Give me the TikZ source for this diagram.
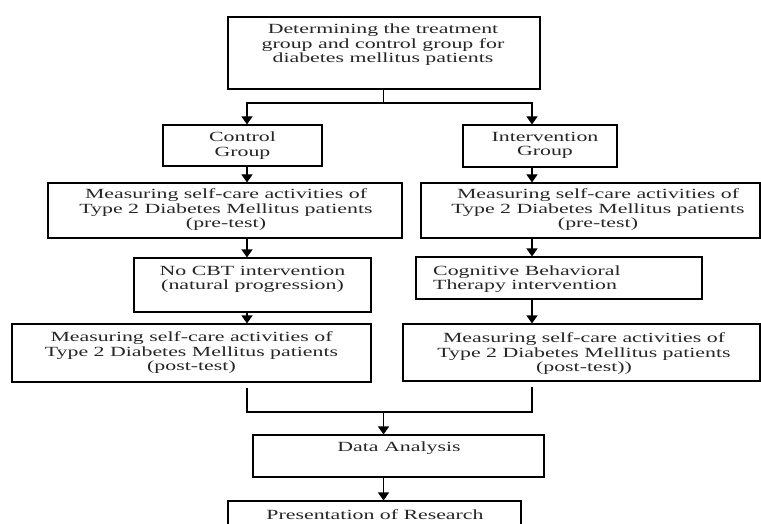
\documentclass[tikz,border=0pt]{standalone}
\usepackage{fontspec}
\setmainfont{Liberation Serif}[FakeStretch=1.56]
\usetikzlibrary{arrows.meta}
\begin{document}
\begin{tikzpicture}[x=1pt,y=-1pt,
  box/.style={draw, line width=1.1pt, inner sep=0pt, rectangle},
  lbl/.style={inner sep=0pt, align=center, text=black!85, font=\fontsize{14}{14.5}\selectfont},
  arr/.style={line width=1.1pt, -{Triangle[width=11pt,length=8pt]}},
  ln/.style={line width=1.1pt}]
\clip (0,0) rectangle (761,524);
\fill[white] (0,0) rectangle (761,524);
% boxes
\node[box, minimum width=312pt, minimum height=72pt] (top) at (384,53) {};
\node[box, minimum width=159pt, minimum height=41pt] (ctrl) at (242.5,145.5) {};
\node[box, minimum width=154pt, minimum height=42pt] (intv) at (540,146) {};
\node[box, minimum width=354pt, minimum height=55pt] (preL) at (225,210.5) {};
\node[box, minimum width=339pt, minimum height=55pt] (preR) at (590.5,210.5) {};
\node[box, minimum width=237pt, minimum height=54pt] (nocbt) at (252.5,285) {};
\node[box, minimum width=286pt, minimum height=42pt] (cbt) at (559,278) {};
\node[box, minimum width=359pt, minimum height=58pt] (postL) at (191.5,353) {};
\node[box, minimum width=357pt, minimum height=57pt] (postR) at (581.5,352.5) {};
\node[box, minimum width=291pt, minimum height=42pt] (data) at (398.5,456) {};
\node[box, minimum width=293pt, minimum height=58pt] (pres) at (374.5,530) {};
% texts
\node[lbl] (topT) at (383,45) {Determining the treatment\\group and control group for\\diabetes mellitus patients};
\node[lbl] (ctrlT) at (242.5,145.5) {Control\\Group};
\node[lbl] (intvT) at (545,145.5) {Intervention\\Group};
\node[lbl] (preLT) at (226,210) {Measuring self-care activities of\\Type 2 Diabetes Mellitus patients\\(pre-test)};
\node[lbl] (preRT) at (598,210) {Measuring self-care activities of\\Type 2 Diabetes Mellitus patients\\(pre-test)};
\node[lbl] (nocbtT) at (252.5,279.5) {No CBT intervention\\(natural progression)};
\node[lbl, align=left, anchor=west] (cbtT) at (433,279) {Cognitive Behavioral\\Therapy intervention};
\node[lbl] (postLT) at (191.5,353) {Measuring self-care activities of\\Type 2 Diabetes Mellitus patients\\(post-test)};
\node[lbl] (postRT) at (584,354) {Measuring self-care activities of\\Type 2 Diabetes Mellitus patients\\(post-test))};
\node[lbl] (dataT) at (399,448) {Data Analysis};
\node[lbl] (presT) at (375,515) {Presentation of Research};
% connector helpers
\coordinate (L) at (247,0);
\coordinate (R) at (532,0);
\coordinate (sp) at (383.5,103);
\coordinate (mg) at (383.5,412);
% connectors
\draw[ln] (top.south -| sp) -- (sp);
\draw[arr] (sp) -| (ctrl.north -| L);
\draw[arr] (sp) -| (intv.north -| R);
\draw[arr] (ctrl.south -| L) -- (preL.north -| L);
\draw[arr] (preL.south -| L) -- (nocbt.north -| L);
\draw[arr] (nocbt.south -| L) -- (postL.north -| L);
\draw[arr] (intv.south -| R) -- (preR.north -| R);
\draw[arr] (preR.south -| R) -- (cbt.north -| R);
\draw[arr] (cbt.south -| R) -- (postR.north -| R);
\draw[ln] ([yshift=-5pt]postL.south -| L) |- (mg);
\draw[ln] ([yshift=-5pt]postR.south -| R) |- (mg);
\draw[arr] (mg) -- (data.north -| mg);
\draw[arr] (data.south -| mg) -- (pres.north -| mg);
\end{tikzpicture}
\end{document}
